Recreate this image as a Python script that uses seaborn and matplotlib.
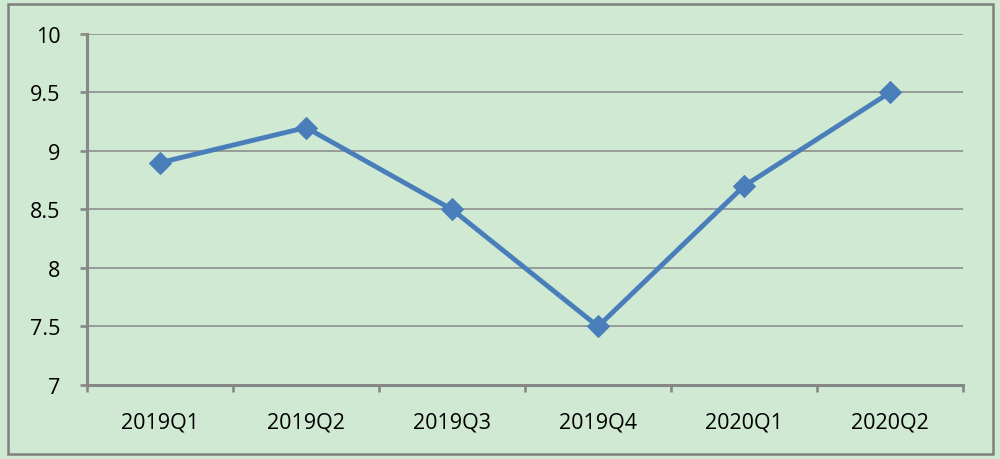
import numpy as np
import pandas as pd
import matplotlib
matplotlib.use("Agg")
import matplotlib.pyplot as plt
import seaborn as sns
from matplotlib.patches import Rectangle

quarters = ["2019Q1", "2019Q2", "2019Q3", "2019Q4", "2020Q1", "2020Q2"]
values = [8.9, 9.2, 8.5, 7.5, 8.7, 9.5]
y_ticks = [7, 7.5, 8, 8.5, 9, 9.5, 10]
y_labels = ["7", "7.5", "8", "8.5", "9", "9.5", "10"]

sns.set_style("white")
plt.rcParams['font.family'] = ['Open Sans', 'DejaVu Sans']

bg = "#d0e9d2"
grey = "#878787"
blue = "#4a7ebb"

df = pd.DataFrame({"quarter": quarters, "value": values})

fig = plt.figure(figsize=(10, 4.6), dpi=100, facecolor=bg)
ax = fig.add_axes([0.087, 0.161, 0.876, 0.763])
ax.set_facecolor(bg)

#outer border of the chart area
fig.patches.append(Rectangle((0.008, 0.011), 0.985, 0.978, transform=fig.transFigure,
                             fill=False, edgecolor="#7f7f7f", linewidth=1.8))

sns.lineplot(data=df, x="quarter", y="value", ax=ax, color=blue, linewidth=3.5,
             marker="D", markersize=11, markeredgecolor=blue, sort=False)

ax.set_xlim(-0.5, 5.5)
ax.set_ylim(7, 10)
ax.set_yticks(y_ticks)
ax.set_yticklabels(y_labels)
ax.set_xticks(range(len(quarters)))
ax.set_xticklabels(quarters)
ax.set_xticks(np.arange(-0.5, 6, 1), minor=True)
ax.tick_params(axis="x", which="major", bottom=True, length=0, pad=19, labelsize=15.5,
               labelcolor="black")
ax.tick_params(axis="x", which="minor", bottom=True, length=5, width=1.9, color=grey,
               direction="out")
ax.tick_params(axis="y", left=True, length=5, width=1.9, color=grey, direction="out",
               pad=14, labelsize=15.5, labelcolor="black")
ax.grid(axis="y", color=grey, linewidth=1.1)
ax.set_axisbelow(True)
ax.set_xlabel("")
ax.set_ylabel("")

for s in ["top", "right"]:
    ax.spines[s].set_visible(False)
for s in ["left", "bottom"]:
    ax.spines[s].set_color(grey)
    ax.spines[s].set_linewidth(2.2)

fig.savefig("out.png", dpi=100, facecolor=bg)
